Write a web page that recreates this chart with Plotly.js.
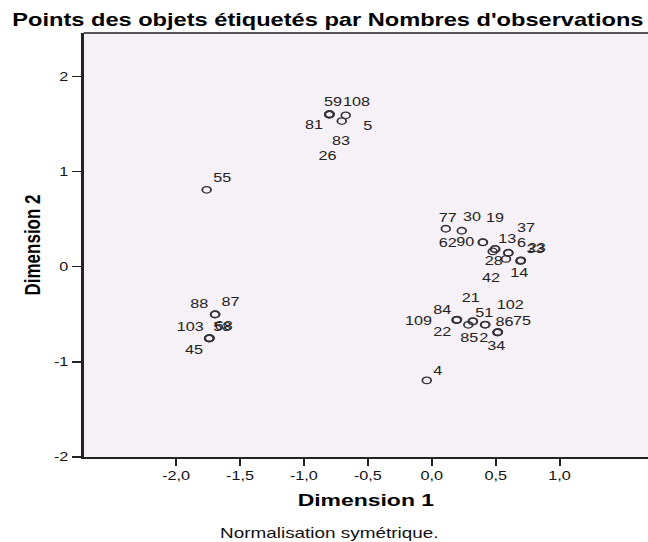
<!DOCTYPE html>
<html>
<head>
<meta charset="utf-8">
<script src="https://cdn.plot.ly/plotly-3.0.1.min.js"></script>
<style>
  html, body { margin: 0; padding: 0; overflow: hidden; background: #fff; }
  #chart { width: 480px; height: 542px; transform: scaleX(1.35); transform-origin: 0 0; }
</style>
</head>
<body>
<div id="chart"></div>
<script>
// ---- data (object points: label, Dimension 1, Dimension 2) ----
const pointLabels = ["59","81","83","26","108","5","55",
  "88","87","103","68","58","45",
  "77","62","90","30","19","13","28","6","37","42","14","23","33",
  "84","109","22","21","51","85","2","86","102","75","34","4"];
const dim1 = [-0.801,-0.799,-0.803,-0.800,-0.673,-0.704,-1.761,
  -1.696,-1.694,-1.740,-1.738,-1.742,-1.741,
  0.110,0.235,0.399,0.401,0.495,0.497,0.477,0.599,0.600,0.581,0.696,0.698,0.694,
  0.196,0.198,0.194,0.321,0.417,0.286,0.322,0.419,0.516,0.518,0.514,-0.039];
const dim2 = [1.601,1.604,1.598,1.597,1.590,1.530,0.807,
  -0.503,-0.500,-0.752,-0.749,-0.755,-0.754,
  0.398,0.377,0.255,0.257,0.186,0.184,0.160,0.144,0.146,0.081,0.063,0.066,0.060,
  -0.559,-0.556,-0.562,-0.573,-0.611,-0.611,-0.575,-0.609,-0.689,-0.686,-0.692,-1.195];

const xTickVals = [-2.0,-1.5,-1.0,-0.5,0.0,0.5,1.0];
const xTickText = ["-2,0","-1,5","-1,0","-0,5","0,0","0,5","1,0"];
const yTickVals = [-2,-1,0,1,2];
const yTickText = ["-2","-1","0","1","2"];

// ---- label placement (pixel offsets from each point, layout only) ----
const labelDx = [4,-15,13,-1,11,26,16,
  -15,15,-19,15,14,-15,
  2,-14,-17,-10,0,12,1,14,18,-14,-1,16,16,
  -14,-38,-14,-2,0,2,11,19,13,24,0,12];
const labelDy = [-12,11,26,41,-13,5,-12,
  -11,-12,-11,-12,-12,12,
  -11,12,0,-25,-31,-10,10,-10,-25,19,12,-12,-12,
  -10,1,12,-23,-12,13,17,-3,-27,-11,13,-9];

const SX = 1.35; // horizontal stretch of the whole picture
const FONT = "Liberation Sans, Arial, sans-serif";

const trace = {
  type: "scatter",
  mode: "markers",
  x: dim1,
  y: dim2,
  text: pointLabels,
  marker: { symbol: "circle-open", size: 6.5, color: "#333", line: { width: 1.3 } },
  hoverinfo: "text",
  showlegend: false
};

const annotations = pointLabels.map((t, i) => ({
  x: dim1[i], y: dim2[i], xref: "x", yref: "y",
  text: t, showarrow: false,
  xanchor: "center", yanchor: "middle",
  xshift: labelDx[i] / SX, yshift: -labelDy[i],
  font: { family: FONT, size: 12, color: "#222" }
}));

annotations.push({
  xref: "paper", yref: "paper", x: 0.435, y: -0.179,
  xanchor: "center", yanchor: "middle", showarrow: false,
  text: "Normalisation symétrique.",
  font: { family: FONT, size: 14, color: "#111" }
});

const layout = {
  width: 480, height: 542,
  margin: { l: 62, r: 0, t: 33, b: 85 },
  paper_bgcolor: "#ffffff",
  plot_bgcolor: "#f6f1f6",
  font: { family: FONT, color: "#111" },
  title: {
    text: "Points des objets étiquetés par Nombres d'observations",
    font: { family: FONT, size: 17.5, weight: "bold", color: "#000" },
    xref: "container", x: 0.506, xanchor: "center",
    yref: "container", y: 0.963, yanchor: "middle"
  },
  xaxis: {
    range: [-2.723, 1.692],
    tickvals: xTickVals, ticktext: xTickText,
    ticks: "outside", ticklen: 7, tickwidth: 1.5, tickcolor: "#222",
    showline: true, linecolor: "#222", linewidth: 2, mirror: false,
    showgrid: false, zeroline: false,
    tickfont: { family: FONT, size: 12, color: "#111" },
    title: { text: "Dimension 1", standoff: 12,
      font: { family: FONT, size: 17, weight: "bold", color: "#000" } }
  },
  yaxis: {
    range: [-2, 2.455],
    tickvals: yTickVals, ticktext: yTickText,
    ticks: "outside", ticklen: 7, tickwidth: 1.5, tickcolor: "#222",
    showline: true, linecolor: "#222", linewidth: 2, mirror: false,
    showgrid: false, zeroline: false,
    tickfont: { family: FONT, size: 12, color: "#111" },
    title: { text: "Dimension 2", standoff: 5,
      font: { family: FONT, size: 17, weight: "bold", color: "#000" } }
  },
  shapes: [{
    type: "line", xref: "paper", yref: "paper",
    x0: 0, x1: 1, y0: 1, y1: 1,
    line: { color: "#555", width: 2 }
  }],
  annotations: annotations
};

Plotly.newPlot("chart", [trace], layout, { displayModeBar: false, staticPlot: true });
</script>
</body>
</html>
